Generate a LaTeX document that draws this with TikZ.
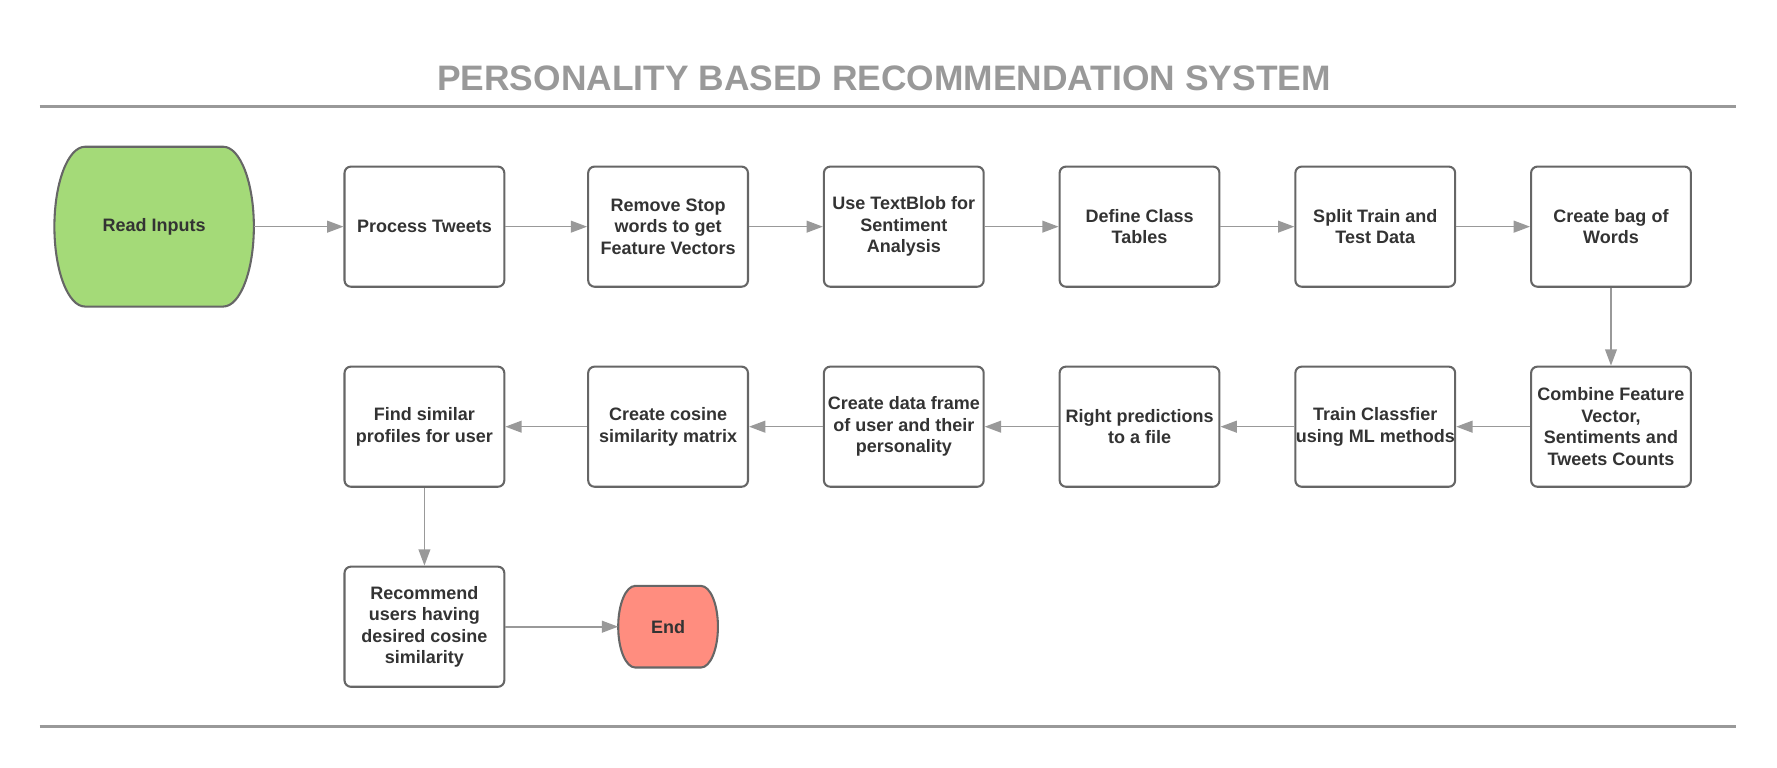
\documentclass[tikz,border=0pt]{standalone}
\usepackage{fontspec}
\setmainfont{Liberation Sans}
\usepackage{xcolor}
\usetikzlibrary{shapes,arrows.meta,backgrounds}

\definecolor{startgreen}{RGB}{164,218,120}
\definecolor{endred}{RGB}{255,141,127}
\definecolor{edgegray}{RGB}{153,153,153}
\definecolor{boxgray}{RGB}{102,102,102}
\definecolor{textgray}{RGB}{51,51,51}

\begin{document}
\begin{tikzpicture}[node distance = 5.2cm, auto, font=\fontsize{11.3}{13.5}\selectfont\bfseries, text=textgray]
	\tikzstyle{block} = [rectangle, draw=boxgray, fill=white, line width=1.3pt, align=center, inner xsep=0pt,
	rounded corners=4pt, minimum width=3.525cm, minimum height=2.65cm]
	\tikzstyle{terminal} = [rectangle, align=center, outer sep=0pt]
	\tikzstyle{line} = [draw=edgegray, -{Triangle[length=0.36cm, width=0.26cm]}, line width=1pt]
	\tikzstyle{rule} = [draw=edgegray, line width=1.4pt]
	\useasboundingbox (0,0) rectangle (39.2,-16.925);
	% Title
	\node [font=\fontsize{22.2}{24}\selectfont\bfseries, text=edgegray] (title) at (19.5,-1.725) {PERSONALITY BASED RECOMMENDATION SYSTEM};
	\path [rule] (0.875,-2.35) -- (38.3,-2.35);
	\path [rule] (0.875,-16.025) -- (38.3,-16.025);
	% Place nodes
	\node [block] (process) at (9.3625,-5) {Process Tweets};
	\node [terminal, left of=process, node distance=5.9625cm, minimum width=4.4cm, minimum height=3.525cm] (read) {Read Inputs};
	\node [block, right of=process, node distance=5.375cm] (stopwords) {Remove Stop\\words to get\\Feature Vectors};
	\node [block, right of=stopwords] (textblob) {Use TextBlob for\\Sentiment\\Analysis};
	\node [block, right of=textblob] (classes) {Define Class\\Tables};
	\node [block, right of=classes] (split) {Split Train and\\Test Data};
	\node [block, right of=split] (bag) {Create bag of\\Words};
	\node [block, below of=bag, node distance=4.4125cm] (combine) {Combine Feature\\Vector,\\Sentiments and\\Tweets Counts};
	\node [block, left of=combine] (train) {Train Classfier\\using ML methods};
	\node [block, left of=train] (predict) {Right predictions\\to a file};
	\node [block, left of=predict] (frame) {Create data frame\\of user and their\\personality};
	\node [block, left of=frame] (cosine) {Create cosine\\similarity matrix};
	\node [block, left of=cosine, node distance=5.375cm] (similar) {Find similar\\profiles for user};
	\node [block, below of=similar, node distance=4.4125cm] (recommend) {Recommend\\users having\\desired cosine\\similarity};
	\node [terminal, below of=cosine, node distance=4.4125cm, minimum width=2.2cm, minimum height=1.8cm] (finish) {End};
	% Terminal outlines
	\begin{scope}[on background layer]
	\filldraw [draw=boxgray, fill=startgreen, line width=1.3pt] ([xshift=0.675cm]read.north west) -- ([xshift=-0.675cm]read.north east)
		arc [start angle=90, end angle=-90, x radius=0.675cm, y radius=1.7625cm] -- ([xshift=0.675cm]read.south west)
		arc [start angle=270, end angle=90, x radius=0.675cm, y radius=1.7625cm] -- cycle;
	\filldraw [draw=boxgray, fill=endred, line width=1.3pt] ([xshift=0.375cm]finish.north west) -- ([xshift=-0.375cm]finish.north east)
		arc [start angle=90, end angle=-90, x radius=0.375cm, y radius=0.9cm] -- ([xshift=0.375cm]finish.south west)
		arc [start angle=270, end angle=90, x radius=0.375cm, y radius=0.9cm] -- cycle;
	\end{scope}
	% Draw edges
	\path [line] (read) -- (process);
	\path [line] (process) -- (stopwords);
	\path [line] (stopwords) -- (textblob);
	\path [line] (textblob) -- (classes);
	\path [line] (classes) -- (split);
	\path [line] (split) -- (bag);
	\path [line] (bag) -- (combine);
	\path [line] (combine) -- (train);
	\path [line] (train) -- (predict);
	\path [line] (predict) -- (frame);
	\path [line] (frame) -- (cosine);
	\path [line] (cosine) -- (similar);
	\path [line] (similar) -- (recommend);
	\path [line] (recommend) -- (finish);
\end{tikzpicture}
\end{document}
